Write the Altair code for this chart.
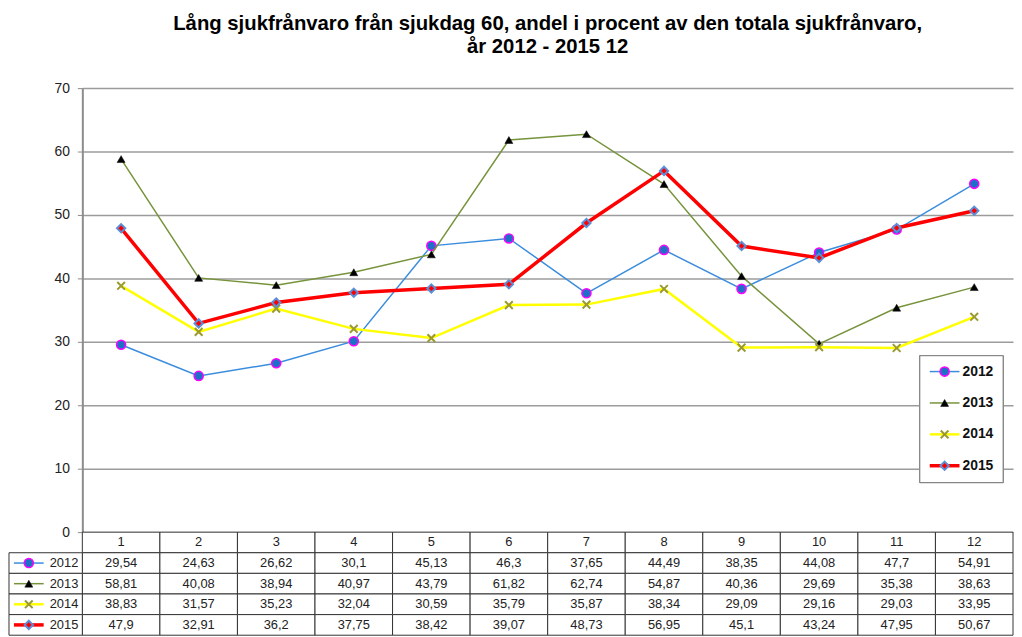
import altair as alt
import pandas as pd

months = list(range(1, 13))
years = ["2012", "2013", "2014", "2015"]
v2012 = [29.54, 24.63, 26.62, 30.1, 45.13, 46.3, 37.65, 44.49, 38.35, 44.08, 47.7, 54.91]
v2013 = [58.81, 40.08, 38.94, 40.97, 43.79, 61.82, 62.74, 54.87, 40.36, 29.69, 35.38, 38.63]
v2014 = [38.83, 31.57, 35.23, 32.04, 30.59, 35.79, 35.87, 38.34, 29.09, 29.16, 29.03, 33.95]
v2015 = [47.9, 32.91, 36.2, 37.75, 38.42, 39.07, 48.73, 56.95, 45.1, 43.24, 47.95, 50.67]
values = {"2012": v2012, "2013": v2013, "2014": v2014, "2015": v2015}
title_lines = ["Lång sjukfrånvaro från sjukdag 60, andel i procent av den totala sjukfrånvaro,",
               "år 2012 - 2015 12"]

FONT = "Liberation Sans"
W, H = 939, 448

styles = {
    "2012": dict(line="#3a8dde", lw=1.5, shape="circle", fill="#1f6fc8", stroke="#ff00ff", sw=1.5, size=85),
    "2013": dict(line="#77933c", lw=1.5, shape="triangle-up", fill="#000000", stroke="#000000", sw=0.5, size=65),
    "2014": dict(line="#ffff00", lw=2.5, shape="M-1,-1L1,1M-1,1L1,-1", fill=None, stroke="#9a9a30", sw=2, size=60),
    "2015": dict(line="#ff0000", lw=3.5, shape="diamond", fill="#ff0000", stroke="#5b8fd8", sw=2, size=70),
}

rows = []
for y in years:
    for m, v in zip(months, values[y]):
        rows.append({"month": m, "series": y, "value": v, "label": str(v).replace(".", ",")})
df = pd.DataFrame(rows)

def marker(base, st):
    if st["fill"] is None:
        return base.mark_point(shape=st["shape"], filled=False, stroke=st["stroke"],
                               strokeWidth=st["sw"], size=st["size"], opacity=1)
    return base.mark_point(shape=st["shape"], filled=True, fill=st["fill"], stroke=st["stroke"],
                           strokeWidth=st["sw"], size=st["size"], opacity=1)

# ---------------- main plot ----------------
xs = alt.X("month:O", scale=alt.Scale(type="point", padding=0.5, domain=months), axis=None)
ys = alt.Y("value:Q", scale=alt.Scale(domain=[0, 70], nice=False),
           axis=alt.Axis(values=list(range(0, 71, 10)), grid=True, gridColor="#9c9c9c", gridWidth=1.5,
                         domainColor="#8c8c8c", domainWidth=2, tickColor="#8c8c8c", tickSize=5,
                         labelFontSize=14, labelFont=FONT, labelColor="#222", labelPadding=8, title=None))
main_layers = []
for y in years:
    st = styles[y]
    base = alt.Chart(df[df.series == y]).encode(x=xs, y=ys)
    main_layers.append(base.mark_line(color=st["line"], strokeWidth=st["lw"]))
    main_layers.append(marker(base, st))
main = alt.layer(*main_layers)

# ---------------- legend (inside plot) ----------------
leg_df = pd.DataFrame({"series": years})
ly = alt.Y("series:N", scale=alt.Scale(type="point", domain=years, range=[286, 381], padding=0), axis=None)
leg_layers = [alt.Chart(leg_df).mark_rect(fill="white", stroke="#808080", strokeWidth=1).encode(
    x=alt.value(845), x2=alt.value(929), y=alt.value(270), y2=alt.value(398))]
for y in years:
    st = styles[y]
    b = alt.Chart(leg_df[leg_df.series == y]).encode(y=ly)
    leg_layers.append(b.mark_rule(color=st["line"], strokeWidth=st["lw"]).encode(x=alt.value(855), x2=alt.value(885)))
    leg_layers.append(marker(b, st).encode(x=alt.value(870)))
    leg_layers.append(b.mark_text(align="left", baseline="middle", font=FONT, fontSize=14, fontWeight="bold",
                                  color="#111").encode(x=alt.value(888), text="series:N"))
legend = alt.layer(*leg_layers)

# ---------------- data table ----------------
row_keys = ["hdr"] + years
hdr_df = pd.DataFrame({"month": months, "row": ["hdr"] * 12, "label": [str(m) for m in months]})
tab_df = pd.DataFrame({"month": df.month, "row": df.series, "label": df.label})
cells_df = pd.concat([hdr_df, tab_df], ignore_index=True)
tx = alt.X("month:O", scale=alt.Scale(type="band", domain=months, paddingInner=0, paddingOuter=0), axis=None)
ty = alt.Y("row:N", scale=alt.Scale(type="band", domain=row_keys, range=[H, H + 104],
                                    paddingInner=0, paddingOuter=0), axis=None)
tb = alt.Chart(cells_df).encode(x=tx, y=ty)
table_layers = [
    tb.mark_rect(fill="white", stroke="#333333", strokeWidth=1),
    tb.mark_text(font=FONT, fontSize=13, color="#222", baseline="middle").encode(text="label:N"),
]
lab_df = pd.DataFrame({"row": years})
lb = alt.Chart(lab_df).encode(y=ty)
table_layers.append(lb.mark_rect(fill="white", stroke="#333333", strokeWidth=1).encode(
    x=alt.value(-74), x2=alt.value(0)))
table_layers.append(lb.mark_text(align="right", baseline="middle", font=FONT, fontSize=13, color="#222").encode(
    x=alt.value(-4), text="row:N"))
for y in years:
    st = styles[y]
    b = alt.Chart(lab_df[lab_df.row == y]).encode(y=ty)
    table_layers.append(b.mark_rule(color=st["line"], strokeWidth=st["lw"]).encode(x=alt.value(-69), x2=alt.value(-39)))
    table_layers.append(marker(b, st).encode(x=alt.value(-54)))
table = alt.layer(*table_layers)

chart = alt.layer(main, legend, table).resolve_scale(x="independent", y="independent").properties(
    width=W, height=H,
    title=alt.Title(title_lines, font=FONT, fontSize=20.5, fontWeight="bold", color="#000",
                    anchor="middle", lineHeight=23, offset=24),
    padding={"left": 0, "top": 3, "right": 0, "bottom": 0},
).configure_view(stroke=None)

chart.save("out.html", embed_options={"renderer": "svg", "actions": False})
